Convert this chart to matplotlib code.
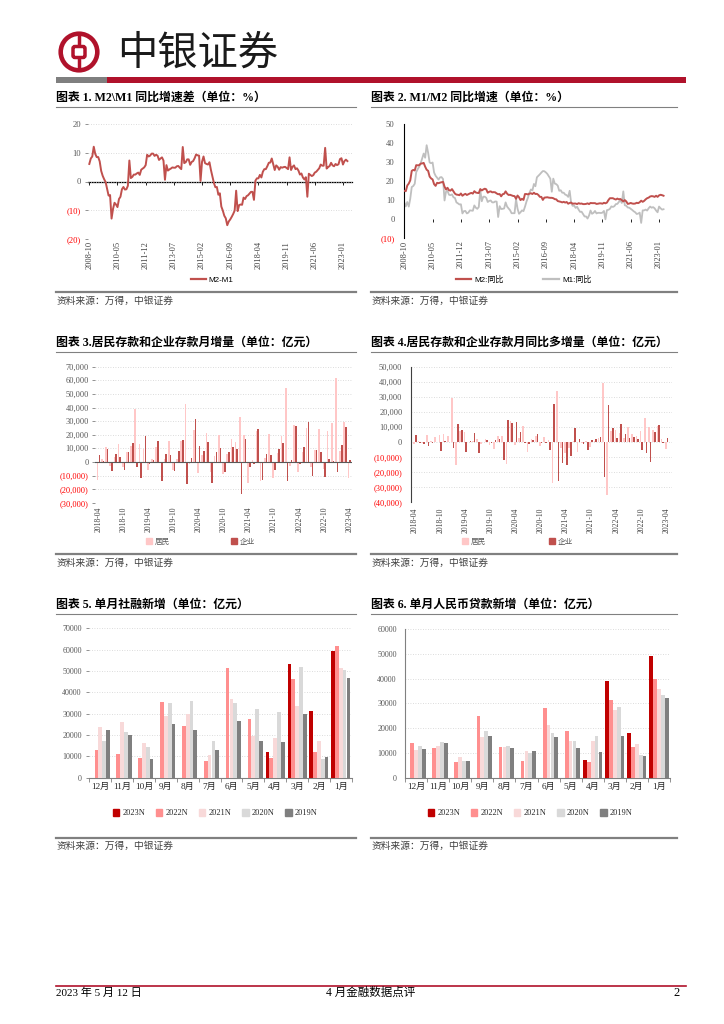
import numpy as np
import pandas as pd
import matplotlib
matplotlib.use('Agg')
import matplotlib.pyplot as plt
from matplotlib.patches import Circle, Rectangle, Patch, FancyBboxPatch
from matplotlib.lines import Line2D

# ---------------- data ----------------
month_start, month_end = '2008-10', '2023-04'
m2_yoy = [15.0, 14.8, 17.8,
          18.8, 20.5, 25.5, 26.0, 25.7, 28.5, 28.4, 28.5, 29.3, 29.4, 29.7, 27.7,
          26.1, 25.5, 22.5, 21.5, 21.0, 18.5, 17.6, 19.2, 19.0, 19.3, 19.5, 19.7,
          17.2, 15.7, 16.6, 15.3, 15.1, 15.9, 14.7, 13.5, 13.0, 12.9, 12.7, 13.6,
          12.4, 13.0, 13.4, 12.8, 13.2, 13.6, 13.9, 13.5, 14.8, 14.1, 13.9, 13.8,
          15.9, 15.2, 15.7, 16.1, 15.8, 14.0, 14.5, 14.7, 14.2, 14.3, 14.2, 13.6,
          13.2, 13.3, 12.1, 13.2, 13.4, 14.7, 13.5, 12.8, 12.9, 12.6, 12.3, 12.2,
          10.8, 12.5, 11.6, 10.1, 10.8, 10.2, 13.3, 13.3, 13.1, 13.5, 13.7, 13.3,
          14.0, 13.3, 13.4, 12.8, 11.8, 11.8, 10.2, 11.4, 11.5, 11.6, 11.4, 11.3,
          11.3, 11.1, 10.6, 10.5, 9.6, 9.4, 9.2, 8.9, 9.2, 8.8, 9.1, 8.2,
          8.6, 8.8, 8.2, 8.3, 8.3, 8.0, 8.5, 8.2, 8.3, 8.0, 8.0, 8.1,
          8.4, 8.0, 8.6, 8.5, 8.5, 8.5, 8.1, 8.2, 8.4, 8.4, 8.2, 8.7,
          8.4, 8.8, 10.1, 11.1, 11.1, 11.1, 10.7, 10.4, 10.9, 10.5, 10.7, 10.1,
          9.4, 10.1, 9.4, 8.1, 8.3, 8.6, 8.3, 8.2, 8.3, 8.7, 8.5, 9.0,
          9.8, 9.2, 9.7, 10.5, 11.1, 11.4, 12.0, 12.2, 12.1, 11.8, 12.4, 11.8,
          12.6, 12.9, 12.7, 12.4]
m1_yoy = [8.9, 6.8, 9.1,
          6.7, 10.9, 17.0, 17.5, 18.7, 24.8, 26.4, 27.7, 29.5, 32.0, 34.6, 32.4,
          39.0, 35.0, 29.9, 29.5, 29.9, 24.6, 22.9, 21.9, 20.9, 22.1, 22.2, 21.2,
          9.9, 14.5, 15.0, 12.9, 12.7, 13.1, 11.6, 11.2, 8.9, 8.4, 7.8, 7.9,
          3.1, 4.3, 4.4, 3.1, 3.5, 4.7, 4.6, 4.5, 7.3, 6.1, 5.5, 6.5,
          15.3, 9.5, 11.9, 11.9, 11.3, 9.1, 9.7, 9.9, 8.9, 8.9, 9.4, 9.3,
          1.2, 6.9, 5.4, 5.5, 5.7, 8.9, 6.7, 5.7, 4.8, 3.2, 3.2, 3.2,
          10.6, 5.6, 2.9, 3.7, 4.7, 4.3, 6.6, 9.3, 11.4, 14.0, 15.7, 15.2,
          18.6, 17.4, 22.1, 22.9, 23.7, 24.6, 25.4, 25.3, 24.7, 23.9, 22.7, 21.4,
          14.5, 21.4, 18.8, 18.5, 17.7, 15.0, 15.3, 14.0, 14.0, 13.0, 12.7, 11.8,
          15.0, 8.5, 7.1, 7.2, 6.0, 6.6, 5.1, 3.9, 4.0, 2.7, 1.5, 1.5,
          0.4, 2.0, 4.6, 2.9, 3.4, 4.4, 3.1, 3.4, 3.4, 3.3, 3.5, 4.4,
          0.0, 4.8, 5.0, 5.5, 6.8, 6.5, 6.9, 8.0, 8.1, 9.1, 10.0, 8.6,
          14.7, 7.4, 7.1, 6.2, 6.1, 5.5, 4.9, 4.2, 3.7, 2.8, 3.0, 3.5,
          -1.9, 4.7, 4.7, 5.1, 4.6, 5.8, 6.7, 6.1, 6.4, 5.8, 4.6, 3.7,
          6.7, 5.8, 5.1, 5.3]
ticks_12 = ['2008-10', '2010-05', '2011-12', '2013-07', '2015-02', '2016-09',
            '2018-04', '2019-11', '2021-06', '2023-01']

dep_start, dep_end = '2018-04', '2023-04'
household_dep = [-13000, 2500, 10600, -3000, 3700, 13500, -3700, 7400, 11500,
                 38800, 13500, 9600, -6000, 2000, 11000, -1000, 2500, 15200, -5700, 2500, 15300,
                 42500, -1200, 23400, -8100, 5000, 21600, -7400, 4200, 19500, -8600, 6100, 16500,
                 14800, 32700, 19500, -15500, 1200, 22400, -14000, 3200, 20400, -12000, 6900, 18900,
                 54000, -2700, 27000, -7400, 7100, 25000, -3700, 8600, 24100, -4900, 22900, 28700,
                 62000, 8100, 29200, -12000]
corporate_dep = [5000, 500, 9300, -6500, 5600, 3400, -6000, 7100, 13800,
                 -3700, -11800, 19000, -1500, 1200, 15200, -14000, 5600, 5000, -6600, 8100, 16000,
                 -16000, 3000, 31500, 11800, 8000, 14500, -15500, 7100, 10200, -7100, 7600, 10600,
                 9300, -23300, 17200, -3700, -1200, 24100, -13500, 5600, 4900, -5600, 9300, 13800,
                 -14000, 1200, 26300, -1200, 11000, 29200, -10600, 9100, 7100, -11000, 2200, 500,
                 -7400, 12500, 25800, 1200]
household_yoy = [-1100, 700, -700, 4500, 700, 3300, 4700, 5600, 3800,
                 29700, -15400, 7400, 7000, 0, 400, 2000, -1200, 1700, -2000, -4900, 3800,
                 3700, -14700, 13800, -2100, 2500, 10600, -6400, 1700, 4300, -2900, 3600, 1200,
                 -27700, 33900, -3900, -7400, -3800, 800, -6600, -1000, 900, -3400, 800, 2400,
                 39200, -35400, 7500, 8100, 5900, 2600, 10300, 5400, 3700, 7100, 16000, 9800,
                 8000, 10800, 2200, -4600]
corporate_yoy = [4500, -700, -1100, -2700, -700, 300, -6000, 400, 300,
                 -3800, 11800, 7800, -6500, 700, 5900, -7500, 0, 1600, -600, 1000, 2200,
                 -12300, 14800, 12500, 13300, 6800, -700, -1500, 1500, 5200, -500, -500, -5400,
                 25300, -26300, -14300, -15500, -9200, 9600, 2000, -1500, -5300, 1500, 1700, 3200,
                 -23300, 24500, 9100, 2500, 12200, 5100, 2900, 3500, 2200, -5400, -7100, -13300,
                 6600, 11300, -500, 2400]
ticks_34 = ['2018-04', '2018-10', '2019-04', '2019-10', '2020-04', '2020-10',
            '2021-04', '2021-10', '2022-04', '2022-10', '2023-04']

month_cats = ['12月', '11月', '10月', '9月', '8月', '7月', '6月', '5月', '4月', '3月', '2月', '1月']
year_labels = ['2023N', '2022N', '2021N', '2020N', '2019N']
nan = np.nan
tsf_2023 = [nan, nan, nan, nan, nan, nan, nan, nan, 12000, 53400, 31200, 59500]
tsf_2022 = [13000, 11100, 9100, 35300, 24200, 7800, 51600, 27500, 9200, 46400, 12200, 61700]
tsf_2021 = [23600, 26000, 16200, 28800, 29800, 10600, 36900, 19400, 18600, 33600, 17200, 51600]
tsf_2020 = [17300, 21400, 14200, 34800, 35800, 17000, 34800, 32000, 31000, 51900, 8700, 50600]
tsf_2019 = [22300, 20000, 8800, 25300, 22200, 13000, 26600, 17300, 16700, 29800, 9800, 46700]
loan_2023 = [nan, nan, nan, nan, nan, nan, nan, nan, 7200, 38900, 18100, 49000]
loan_2022 = [14000, 12100, 6200, 24700, 12500, 6800, 28100, 18900, 6500, 31300, 12300, 39800]
loan_2021 = [11300, 12700, 8300, 16600, 12200, 10800, 21200, 15000, 14700, 27300, 13600, 35800]
loan_2020 = [12600, 14300, 6900, 19000, 12800, 9900, 18100, 14800, 17000, 28500, 9100, 33400]
loan_2019 = [11400, 13900, 6600, 16900, 12100, 10600, 16600, 11800, 10200, 16900, 8900, 32300]

# ---------------- style ----------------
W, H = 724, 1024
RED = '#B0122B'
LINE_RED = '#C0504D'
PINK = '#FFC7C7'
DARK_RED = '#C0504D'
YEAR_COLORS = ['#C00000', '#FF8F8F', '#F8D9D9', '#D9D9D9', '#7F7F7F']
SERIF = ['Liberation Serif', 'Noto Sans CJK SC']
CJK = ['Noto Sans CJK SC', 'DejaVu Sans']
SANS = ['Liberation Sans', 'Noto Sans CJK SC']
LBL = '#595959'
NEG = '#FF0000'
GRID = dict(color='#D0D0D0', lw=0.6, ls=(0, (1, 2)))
plt.rcParams['font.family'] = SERIF

fig = plt.figure(figsize=(7.24, 10.24), dpi=100)


def rect(x0, y0, x1, y1):
    return [x0 / W, 1 - y1 / H, (x1 - x0) / W, (y1 - y0) / H]


def fy(y):
    return 1 - y / H


def fmt(v, comma):
    s = f'{abs(v):,.0f}' if comma else f'{abs(v):.0f}'
    return f'({s})' if v < 0 else s


def set_yticks(ax, vals, comma, size=6.2):
    ax.set_yticks(vals)
    ax.set_yticklabels([fmt(v, comma) for v in vals], fontsize=size)
    for t, v in zip(ax.get_yticklabels(), vals):
        t.set_color(NEG if v < 0 else LBL)


# background/decoration layer in pixel coordinates
bg = fig.add_axes([0, 0, 1, 1], zorder=-5)
bg.set_xlim(0, W)
bg.set_ylim(H, 0)
bg.axis('off')

# header logo
bg.add_patch(Circle((79, 52), 18.3, fill=False, ec=RED, lw=3.3))
bg.add_patch(FancyBboxPatch((73, 46.5), 12, 11, boxstyle='round,pad=0,rounding_size=2',
                            fill=False, ec=RED, lw=2.5))
bg.plot([79, 79], [34.5, 46.5], color=RED, lw=2.5, solid_capstyle='butt')
bg.plot([79, 79], [57.5, 69.5], color=RED, lw=2.5, solid_capstyle='butt')
bg.text(117, 53, '中银证券', fontsize=29, family=CJK, va='center', ha='left', color='#1A1A1A')
bg.add_patch(Rectangle((56, 77), 51, 5.5, color='#7F7F7F', lw=0))
bg.add_patch(Rectangle((107, 77), 579, 5.5, color=RED, lw=0))

# panel titles and frames
titles = [(56, 98, '图表 1. M2\\M1 同比增速差（单位：%）'),
          (371, 98, '图表 2. M1/M2 同比增速（单位：%）'),
          (56, 343, '图表 3.居民存款和企业存款月增量（单位：亿元）'),
          (371, 343, '图表 4.居民存款和企业存款月同比多增量（单位：亿元）'),
          (56, 605, '图表 5. 单月社融新增（单位：亿元）'),
          (371, 605, '图表 6. 单月人民币贷款新增（单位：亿元）')]
for x, y, t in titles:
    bg.text(x, y, t, fontsize=8.6, fontweight='bold', va='center', ha='left', color='black')
for y in (106.7, 351.7, 614):
    bg.plot([56, 356], [y, y], color='#808080', lw=0.8)
    bg.plot([371, 677], [y, y], color='#808080', lw=0.8)
for y in (292.3, 554.3, 837.7):
    bg.plot([56, 356], [y, y], color='#808080', lw=1.6)
    bg.plot([371, 677], [y, y], color='#808080', lw=1.6)
    bg.text(57, y + 8.7, '资料来源：万得，中银证券', fontsize=7, family=CJK, va='center',
            ha='left', color='#404040')
    bg.text(372, y + 8.7, '资料来源：万得，中银证券', fontsize=7, family=CJK, va='center',
            ha='left', color='#404040')

# footer
bg.plot([56, 686], [985.5, 985.5], color=RED, lw=1.2)
bg.text(56, 993, '2023 年 5 月 12 日', fontsize=8, va='center', ha='left', color='black')
bg.text(371, 993, '4 月金融数据点评', fontsize=8.3, va='center', ha='center', color='black')
bg.text(680, 993, '2', fontsize=9, va='center', ha='right', color='black')

# ---------------- chart 1 & 2 ----------------
months = pd.period_range(month_start, month_end, freq='M').strftime('%Y-%m')
xm = np.arange(len(months))
tick_pos_12 = [list(months).index(t) for t in ticks_12]
spread = np.array(m2_yoy) - np.array(m1_yoy)

ax1 = fig.add_axes(rect(88, 124, 352, 239))
ax1.plot(xm, spread, color=LINE_RED, lw=1.4, zorder=3)
ax1.set_xlim(-0.88, 177.1)
ax1.set_ylim(-20, 20)
set_yticks(ax1, [-20, -10, 0, 10, 20], False)
ax1.yaxis.grid(True, **GRID)
for s in ax1.spines.values():
    s.set_visible(False)
ax1.tick_params(axis='y', length=2.5, width=0.6, color='#808080', pad=2.5)
ax1.set_xticks(tick_pos_12)
ax1.set_xticklabels(ticks_12, rotation=90, fontsize=6.0, color='#404040')
ax1.tick_params(axis='x', length=0, pad=1.5)
sec1 = ax1.secondary_xaxis(0.4999)
sec1.set_xticks(tick_pos_12)
sec1.set_xticklabels([])
sec1.tick_params(length=2.5, width=0.6, color='black', direction='out')
sec1.spines['bottom'].set_color('black')
sec1.spines['bottom'].set_linewidth(0.9)
fig.legend([Line2D([], [], color=LINE_RED, lw=1.6)], ['M2-M1'], loc='center left',
           bbox_to_anchor=(191 / W, fy(280)), frameon=False, handlelength=1.8,
           handletextpad=0.4, borderpad=0, borderaxespad=0,
           prop={'family': SANS, 'size': 5.8})

ax2 = fig.add_axes(rect(404.3, 124.3, 668, 238.3))
ax2.plot(xm, m1_yoy, color='#BFBFBF', lw=1.3, zorder=2)
ax2.plot(xm, m2_yoy, color=LINE_RED, lw=1.4, zorder=3)
ax2.set_xlim(0, 177.0)
ax2.set_ylim(-10, 50)
set_yticks(ax2, [-10, 0, 10, 20, 30, 40, 50], False)
ax2.set_yticks([10, 20, 30, 40, 50], minor=True)
ax2.yaxis.grid(True, which='minor', **GRID)
for k in ('top', 'right', 'bottom'):
    ax2.spines[k].set_visible(False)
ax2.spines['left'].set_color('black')
ax2.spines['left'].set_linewidth(0.8)
ax2.tick_params(axis='y', which='both', length=0, pad=7)
ax2.set_xticks(tick_pos_12)
ax2.set_xticklabels(ticks_12, rotation=90, fontsize=6.0, color='#404040')
ax2.tick_params(axis='x', length=0, pad=1.5)
sec2 = ax2.secondary_xaxis(10 / 60)
sec2.set_xticks(tick_pos_12)
sec2.set_xticklabels([])
sec2.tick_params(length=2.2, width=0.6, color='black', direction='out')
sec2.spines['bottom'].set_visible(False)
fig.legend([Line2D([], [], color=LINE_RED, lw=1.6), Line2D([], [], color='#BFBFBF', lw=1.6)],
           ['M2:同比', 'M1:同比'], loc='center left', ncol=2,
           bbox_to_anchor=(456 / W, fy(280)), frameon=False, handlelength=1.9,
           handletextpad=0.4, columnspacing=4.9, borderpad=0, borderaxespad=0,
           prop={'family': SANS, 'size': 5.8})

# ---------------- chart 3 & 4 ----------------
dmonths = pd.period_range(dep_start, dep_end, freq='M').strftime('%Y-%m')
xd = np.arange(len(dmonths))
tick_pos_34 = [list(dmonths).index(t) for t in ticks_34]
bw = 0.38

ax3 = fig.add_axes(rect(95, 366.7, 352, 502.7))
ax3.bar(xd - 0.2, household_dep, width=bw, color=PINK, zorder=3, lw=0)
ax3.bar(xd + 0.2, corporate_dep, width=bw, color=DARK_RED, zorder=3, lw=0)
ax3.axhline(0, color='#595959', lw=0.8, zorder=4)
ax3.set_xlim(-0.84, 60.65)
ax3.set_ylim(-30000, 70000)
set_yticks(ax3, list(range(-30000, 70001, 10000)), True, size=6.0)
ax3.yaxis.grid(True, **GRID)
for s in ax3.spines.values():
    s.set_visible(False)
ax3.tick_params(axis='y', length=2.5, width=0.6, color='#808080', pad=2)
ax3.set_xticks(tick_pos_34)
ax3.set_xticklabels(ticks_34, rotation=90, fontsize=5.5, color='#404040')
ax3.tick_params(axis='x', length=0, pad=3)
fig.legend([Patch(color=PINK), Patch(color=DARK_RED)], ['居民', '企业'], loc='center left',
           ncol=2, bbox_to_anchor=(146 / W, fy(542)), frameon=False, handlelength=0.8,
           handleheight=0.8, handletextpad=0.4, columnspacing=7.9, borderpad=0,
           borderaxespad=0, prop={'family': CJK, 'size': 5.5}, labelcolor='#595959')

ax4 = fig.add_axes(rect(410.7, 367.3, 672, 501.7))
ax4.bar(xd - 0.2, household_yoy, width=bw, color=PINK, zorder=3, lw=0)
ax4.bar(xd + 0.2, corporate_yoy, width=bw, color=DARK_RED, zorder=3, lw=0)
ax4.set_xlim(-1.03, 61.3)
ax4.set_ylim(-40000, 50000)
set_yticks(ax4, list(range(-40000, 50001, 10000)), True, size=6.0)
ax4.yaxis.grid(True, **GRID)
for k in ('top', 'right', 'bottom'):
    ax4.spines[k].set_visible(False)
ax4.spines['left'].set_color('#404040')
ax4.spines['left'].set_linewidth(0.8)
ax4.tick_params(axis='y', length=0, pad=6)
ax4.set_xticks(tick_pos_34)
ax4.set_xticklabels(ticks_34, rotation=90, fontsize=5.5, color='#404040')
ax4.tick_params(axis='x', length=0, pad=4)
fig.legend([Patch(color=PINK), Patch(color=DARK_RED)], ['居民', '企业'], loc='center left',
           ncol=2, bbox_to_anchor=(462 / W, fy(542)), frameon=False, handlelength=0.8,
           handleheight=0.8, handletextpad=0.4, columnspacing=8.2, borderpad=0,
           borderaxespad=0, prop={'family': CJK, 'size': 5.5}, labelcolor='#595959')

# ---------------- chart 5 & 6 ----------------
xg = np.arange(len(month_cats))
gw = 0.175


def grouped(ax, series, ymax, left_spine):
    for k, (vals, col) in enumerate(zip(series, YEAR_COLORS)):
        ax.bar(xg + (k - 2) * gw, vals, width=gw * 0.97, color=col, zorder=3, lw=0)
    ax.set_xlim(-0.5, 11.5)
    ax.set_ylim(0, ymax)
    yt = list(range(0, ymax + 1, 10000))
    ax.set_yticks(yt)
    ax.set_yticklabels([str(v) for v in yt], fontsize=5.8, color=LBL)
    ax.yaxis.grid(True, **GRID)
    for k in ('top', 'right'):
        ax.spines[k].set_visible(False)
    ax.spines['bottom'].set_color('#808080')
    ax.spines['bottom'].set_linewidth(0.8)
    ax.spines['left'].set_visible(left_spine)
    ax.spines['left'].set_color('#808080')
    ax.spines['left'].set_linewidth(0.8)
    if left_spine:
        ax.tick_params(axis='y', length=0, pad=6)
    else:
        ax.tick_params(axis='y', length=2.5, width=0.6, color='#808080', pad=3)
    ax.set_xticks(xg)
    ax.set_xticklabels(month_cats, fontsize=6.6, color='#262626')
    ax.set_xticks(np.arange(-0.5, 12, 1), minor=True)
    ax.tick_params(axis='x', which='major', length=0, pad=4)
    ax.tick_params(axis='x', which='minor', length=3, width=0.6, color='#808080')


ax5 = fig.add_axes(rect(89.3, 628.3, 351.7, 777.7))
grouped(ax5, [tsf_2023, tsf_2022, tsf_2021, tsf_2020, tsf_2019], 70000, False)
ax6 = fig.add_axes(rect(405, 629, 670, 777.7))
grouped(ax6, [loan_2023, loan_2022, loan_2021, loan_2020, loan_2019], 60000, True)

for xa in (112.5, 427.5):
    fig.legend([Patch(color=c) for c in YEAR_COLORS], year_labels, loc='center left', ncol=5,
               bbox_to_anchor=(xa / W, fy(813.3)), frameon=False, handlelength=0.8,
               handleheight=0.8, handletextpad=0.4, columnspacing=1.25, borderpad=0,
               borderaxespad=0, prop={'family': SERIF, 'size': 6}, labelcolor='#262626')

fig.savefig('out.png', dpi=100)
